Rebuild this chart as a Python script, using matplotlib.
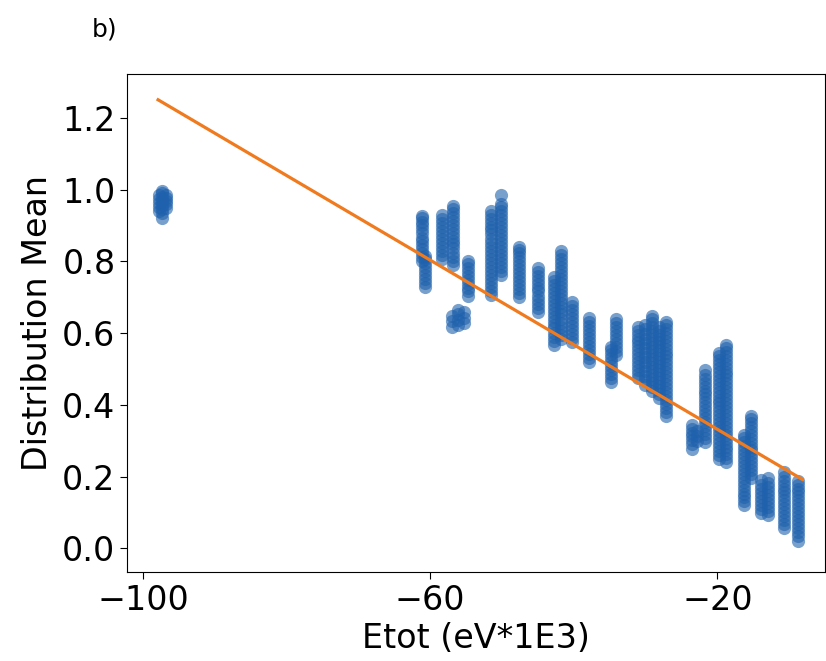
import matplotlib

matplotlib.use("Agg")
import matplotlib.pyplot as plt  # noqa: E402
import numpy as np  # noqa: E402

# Etot position of each sample column (eV*1E3) and the distribution means in it
etot_cols = [-97.8, -97.3, -96.8,
             -61.2, -60.7, -58.4, -56.8,
             -56.9, -56.1, -55.3, -54.8,
             -51.5, -50.1, -47.6, -45.0,
             -42.7, -41.8, -40.2, -37.9,
             -34.8, -34.1, -31.0, -30.1, -29.1, -28.1, -27.2,
             -23.6, -22.8, -21.7, -19.8, -18.8,
             -16.3, -15.3, -14.0, -13.0, -10.8, -8.8]

mean_cols = [
    [0.94, 0.952, 0.963, 0.975, 0.984],
    [0.921, 0.936, 0.947, 0.958, 0.969, 0.98, 0.991, 0.997],
    [0.948, 0.959, 0.968, 0.977, 0.986],
    [0.801, 0.812, 0.823, 0.834, 0.846, 0.857, 0.866, 0.878, 0.889, 0.9,
     0.911, 0.92, 0.927],
    [0.728, 0.739, 0.75, 0.762, 0.773, 0.784, 0.795, 0.806, 0.816],
    [0.807, 0.818, 0.829, 0.84, 0.852, 0.863, 0.874, 0.885, 0.896, 0.907,
     0.918, 0.928],
    [0.79, 0.802, 0.813, 0.824, 0.836, 0.847, 0.858, 0.869, 0.88, 0.891,
     0.902, 0.913, 0.924, 0.935, 0.945, 0.953],
    [0.618, 0.633, 0.648],
    [0.622, 0.637, 0.652, 0.664],
    [0.628, 0.643, 0.659],
    [0.703, 0.716, 0.727, 0.738, 0.749, 0.76, 0.771, 0.782, 0.793, 0.802],
    [0.706, 0.717, 0.729, 0.74, 0.751, 0.762, 0.774, 0.785, 0.796, 0.807,
     0.818, 0.83, 0.841, 0.852, 0.863, 0.875, 0.886, 0.897, 0.908, 0.919,
     0.93, 0.941],
    [0.762, 0.773, 0.784, 0.795, 0.806, 0.818, 0.829, 0.84, 0.851, 0.862,
     0.873, 0.884, 0.896, 0.907, 0.918, 0.929, 0.94, 0.951, 0.96, 0.986],
    [0.7, 0.711, 0.722, 0.733, 0.744, 0.756, 0.767, 0.778, 0.789, 0.8,
     0.811, 0.822, 0.833, 0.841],
    [0.66, 0.671, 0.682, 0.693, 0.704, 0.716, 0.727, 0.738, 0.749, 0.76,
     0.771, 0.782],
    [0.568, 0.579, 0.59, 0.601, 0.613, 0.624, 0.635, 0.646, 0.657, 0.668,
     0.679, 0.69, 0.702, 0.713, 0.724, 0.735, 0.746, 0.757],
    [0.585, 0.596, 0.607, 0.618, 0.629, 0.64, 0.652, 0.663, 0.674, 0.685,
     0.696, 0.707, 0.718, 0.729, 0.74, 0.752, 0.763, 0.774, 0.785, 0.796,
     0.807, 0.818, 0.829],
    [0.575, 0.586, 0.597, 0.608, 0.62, 0.631, 0.642, 0.653, 0.664, 0.675,
     0.686],
    [0.52, 0.531, 0.542, 0.553, 0.564, 0.576, 0.587, 0.598, 0.609, 0.62,
     0.631, 0.641],
    [0.465, 0.476, 0.487, 0.498, 0.509, 0.52, 0.531, 0.542, 0.553, 0.56],
    [0.54, 0.551, 0.562, 0.573, 0.584, 0.595, 0.606, 0.617, 0.628, 0.64],
    [0.475, 0.486, 0.497, 0.508, 0.519, 0.53, 0.541, 0.552, 0.563, 0.574,
     0.585, 0.596, 0.607, 0.618],
    [0.455, 0.468, 0.481, 0.494, 0.507, 0.52, 0.533, 0.546, 0.559, 0.572,
     0.585, 0.598, 0.611, 0.624],
    [0.44, 0.451, 0.462, 0.473, 0.484, 0.495, 0.506, 0.517, 0.528, 0.539,
     0.55, 0.561, 0.572, 0.583, 0.594, 0.605, 0.616, 0.627, 0.638, 0.647],
    [0.42, 0.431, 0.442, 0.453, 0.464, 0.475, 0.486, 0.497, 0.508, 0.519,
     0.53, 0.541, 0.552, 0.563, 0.574, 0.585, 0.596, 0.607, 0.618],
    [0.37, 0.381, 0.392, 0.403, 0.414, 0.425, 0.436, 0.447, 0.458, 0.469,
     0.48, 0.491, 0.502, 0.513, 0.524, 0.535, 0.546, 0.557, 0.568, 0.579,
     0.59, 0.601, 0.612, 0.623, 0.632],
    [0.278, 0.29, 0.301, 0.312, 0.323, 0.334, 0.345],
    [0.3, 0.314, 0.328],
    [0.297, 0.308, 0.319, 0.33, 0.341, 0.352, 0.363, 0.374, 0.385, 0.396,
     0.407, 0.418, 0.429, 0.44, 0.451, 0.462, 0.473, 0.484, 0.497],
    [0.25, 0.261, 0.272, 0.283, 0.294, 0.305, 0.316, 0.327, 0.338, 0.349,
     0.36, 0.371, 0.382, 0.393, 0.404, 0.415, 0.426, 0.437, 0.448, 0.459,
     0.47, 0.481, 0.492, 0.503, 0.514, 0.525, 0.536, 0.545],
    [0.24, 0.251, 0.262, 0.273, 0.284, 0.295, 0.306, 0.317, 0.328, 0.339,
     0.35, 0.361, 0.372, 0.383, 0.394, 0.405, 0.416, 0.427, 0.438, 0.449,
     0.46, 0.471, 0.482, 0.493, 0.504, 0.515, 0.526, 0.537, 0.548, 0.558,
     0.566],
    [0.12, 0.131, 0.142, 0.153, 0.164, 0.175, 0.186, 0.197, 0.208, 0.219,
     0.23, 0.241, 0.252, 0.263, 0.274, 0.285, 0.296, 0.307, 0.316],
    [0.196, 0.207, 0.218, 0.229, 0.24, 0.251, 0.262, 0.273, 0.284, 0.295,
     0.306, 0.317, 0.328, 0.339, 0.35, 0.36, 0.369],
    [0.1, 0.111, 0.122, 0.133, 0.144, 0.155, 0.166, 0.177, 0.19],
    [0.094, 0.105, 0.116, 0.127, 0.138, 0.149, 0.16, 0.171, 0.182, 0.197],
    [0.057, 0.068, 0.079, 0.09, 0.101, 0.112, 0.123, 0.134, 0.145, 0.156,
     0.167, 0.178, 0.189, 0.2, 0.214],
    [0.022, 0.035, 0.046, 0.057, 0.068, 0.079, 0.09, 0.101, 0.112, 0.123,
     0.134, 0.145, 0.156, 0.167, 0.178, 0.188],
]

# linear fit: mean = intercept + slope * Etot, drawn over the data range
fit_slope = -0.01179
fit_intercept = 0.096
fit_x = [-97.9, -8.2]

x = np.repeat(etot_cols, [len(c) for c in mean_cols])
y = np.concatenate([np.asarray(c) for c in mean_cols])

fig = plt.figure(figsize=(8.26, 6.61), dpi=100)
ax = fig.add_axes([0.154, 0.135, 0.845, 0.753])

ax.scatter(x, y, s=90, color="#1f61ad", alpha=0.6, linewidths=0)
fx = np.array(fit_x)
ax.plot(fx, fit_intercept + fit_slope * fx, color="#f07a1e", linewidth=2.3)

ax.set_xlim(-102.2, -5.0)
ax.set_ylim(-0.065, 1.322)
ax.set_xticks([-100, -60, -20])
ax.set_yticks([0.0, 0.2, 0.4, 0.6, 0.8, 1.0, 1.2])
ax.tick_params(labelsize=24, length=5)
ax.set_xlabel("Etot (eV*1E3)", fontsize=24, labelpad=4)
ax.set_ylabel("Distribution Mean", fontsize=24, labelpad=6)

fig.text(0.111, 0.955, "b)", fontsize=18, va="center")

fig.savefig("out.png", dpi=100)
